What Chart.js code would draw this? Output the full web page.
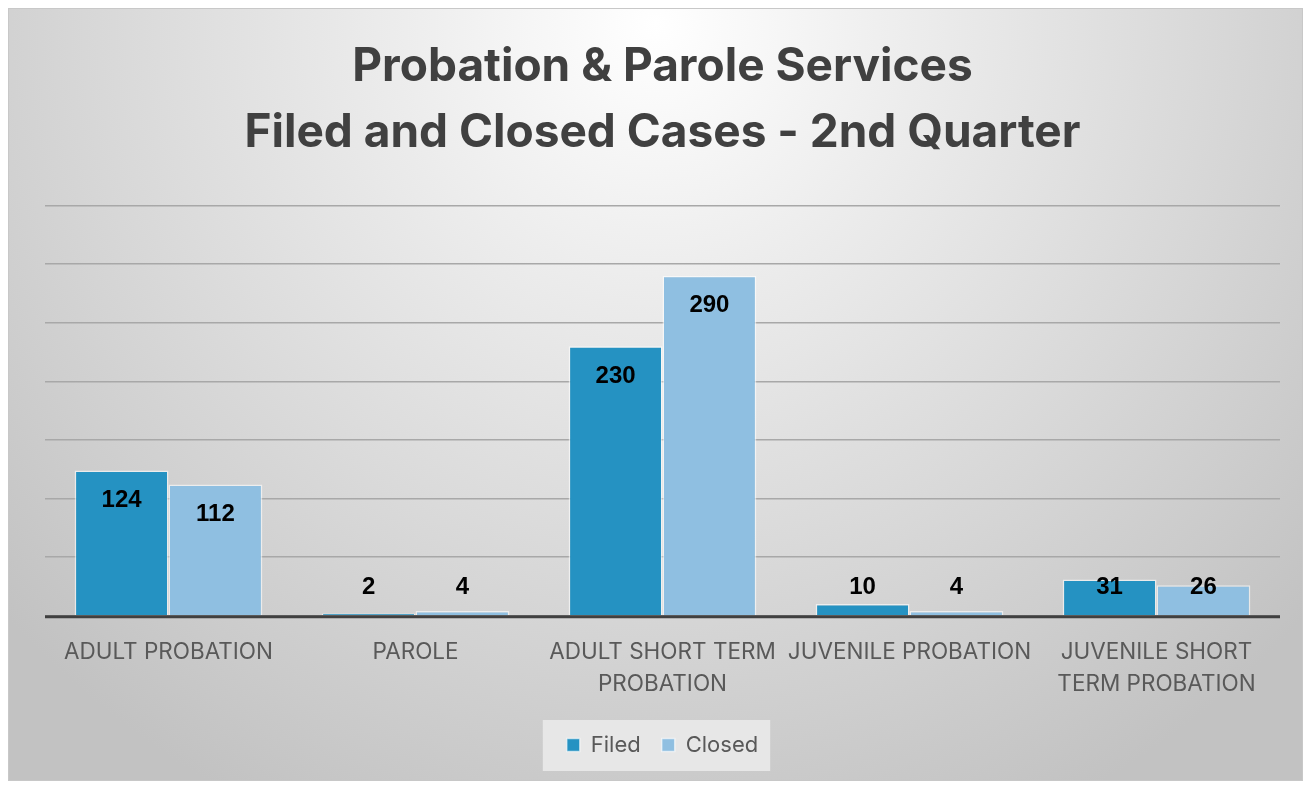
<!DOCTYPE html>
<html>
<head>
<meta charset="utf-8">
<script src="https://cdn.jsdelivr.net/npm/chart.js@4.4.1/dist/chart.umd.min.js"></script>
<style>
  html, body { margin: 0; padding: 0; background: #fff; }
  #wrap { position: absolute; left: 8px; top: 8px; width: 1293px; height: 771px; border: 1px solid #c8c8c8; }
  canvas { display: block; }
</style>
</head>
<body>
<div id="wrap"><canvas id="myChart"></canvas></div>
<script>
const categories = [
  'ADULT PROBATION',
  'PAROLE',
  ['ADULT SHORT TERM', 'PROBATION'],
  'JUVENILE PROBATION',
  ['JUVENILE SHORT', 'TERM PROBATION']
];
const filed = [124, 2, 230, 10, 31];
const closed = [112, 4, 290, 4, 26];

// radial grey background + legend box
const backdrop = {
  id: 'backdrop',
  beforeDraw(chart) {
    const c = chart.ctx, w = chart.width, h = chart.height;
    const g = c.createRadialGradient(w * 0.5, h * 0.02, 0, w * 0.5, h * 0.02, w * 0.68);
    g.addColorStop(0, '#ffffff');
    g.addColorStop(0.3, '#ececec');
    g.addColorStop(1, '#c2c2c2');
    c.save();
    c.fillStyle = g;
    c.fillRect(0, 0, w, h);
    const boxes = chart.legend.legendHitBoxes;
    if (boxes && boxes.length) {
      const first = boxes[0], last = boxes[boxes.length - 1];
      const x0 = first.left - 24, x1 = last.left + last.width + 12;
      const yc = first.top + first.height / 2;
      c.fillStyle = 'rgba(232,232,232,0.95)';
      c.fillRect(x0, yc - 25, x1 - x0, 51);
    }
    c.restore();
  }
};

// value labels: inside end, pushed above the base for short bars
const valueLabels = {
  id: 'valueLabels',
  afterDatasetsDraw(chart) {
    const c = chart.ctx;
    const base = chart.scales.y.getPixelForValue(0);
    c.save();
    c.font = 'bold 24px "Liberation Sans", Arial, sans-serif';
    c.fillStyle = '#000';
    c.textAlign = 'center';
    c.textBaseline = 'middle';
    chart.data.datasets.forEach((ds, i) => {
      chart.getDatasetMeta(i).data.forEach((bar, j) => {
        const y = Math.min(bar.y + 30, base - 28);
        c.fillText(ds.data[j], bar.x, y);
      });
    });
    c.restore();
  }
};

// dark baseline
const baseLine = {
  id: 'baseLine',
  afterDatasetsDraw(chart) {
    const c = chart.ctx, a = chart.chartArea;
    const y = chart.scales.y.getPixelForValue(0);
    c.save();
    c.strokeStyle = '#404040';
    c.lineWidth = 3;
    c.beginPath();
    c.moveTo(a.left, y + 1);
    c.lineTo(a.right, y + 1);
    c.stroke();
    c.restore();
  }
};

const ctx = document.getElementById('myChart');

new Chart(ctx, {
  type: 'bar',
  data: {
    labels: categories,
    datasets: [{
      label: 'Filed',
      data: filed,
      backgroundColor: '#2592c2',
      borderColor: 'rgba(255,255,255,0.6)',
      borderWidth: 1.5
    }, {
      label: 'Closed',
      data: closed,
      backgroundColor: '#8fbfe1',
      borderColor: 'rgba(255,255,255,0.6)',
      borderWidth: 1.5
    }]
  },
  options: {
    responsive: true,
    maintainAspectRatio: false,
    animation: false,
    layout: { padding: { left: 36, right: 22, top: 25, bottom: 14 } },
    datasets: { bar: { categoryPercentage: 0.76, barPercentage: 1.0 } },
    plugins: {
      legend: {
        position: 'bottom',
        labels: {
          boxWidth: 13,
          boxHeight: 13,
          padding: 21,
          color: '#595959',
          font: { family: 'Inter, "Open Sans", sans-serif', size: 22 }
        }
      },
      title: {
        display: true,
        text: ['Probation & Parole Services', 'Filed and Closed Cases - 2nd Quarter'],
        color: '#404040',
        font: { family: 'Inter, "Open Sans", sans-serif', size: 46, weight: 'bold', lineHeight: 1.44 },
        padding: { top: 0, bottom: 39 }
      },
      tooltip: { enabled: false }
    },
    scales: {
      x: {
        grid: { display: false },
        border: { display: false },
        ticks: {
          color: '#595959',
          maxRotation: 0,
          autoSkip: false,
          padding: 12,
          font: { family: 'Inter, "Open Sans", sans-serif', size: 22.5, lineHeight: 1.45 }
        }
      },
      y: {
        min: 0,
        max: 350,
        ticks: { display: false, stepSize: 50 },
        border: { display: false },
        grid: { color: '#a8a8a8', lineWidth: 1.5, drawTicks: false }
      }
    }
  },
  plugins: [backdrop, valueLabels, baseLine]
});
</script>
</body>
</html>
